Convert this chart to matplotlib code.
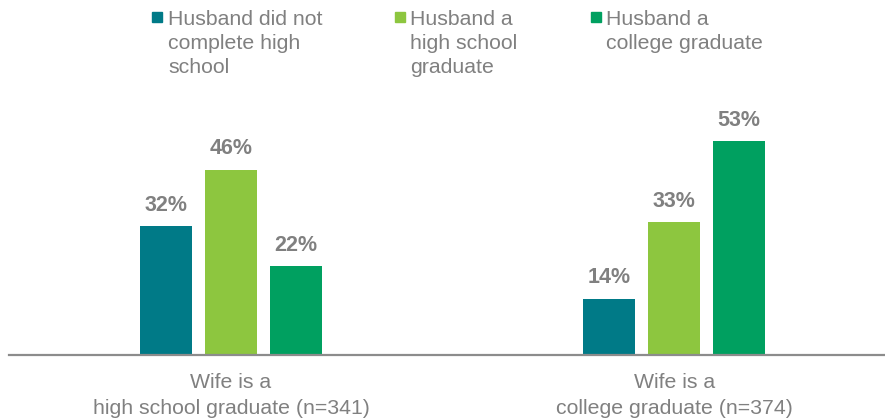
import numpy as np
import matplotlib

matplotlib.use("Agg")
import matplotlib.pyplot as plt
from matplotlib.patches import Rectangle

# Data
groups = ["Wife is a\nhigh school graduate (n=341)",
          "Wife is a\ncollege graduate (n=374)"]
series = ["Husband did not\ncomplete high\nschool",
          "Husband a\nhigh school\ngraduate",
          "Husband a\ncollege graduate"]
no_hs = [32, 14]
hs_grad = [46, 33]
college = [22, 53]

COLORS = ["#007A87", "#8DC63F", "#00A060"]
GREY = "#808080"
FONT = "Liberation Sans"

plt.rcParams["font.family"] = [FONT, "DejaVu Sans"]

W, H = 885, 419
fig = plt.figure(figsize=(W / 100, H / 100), dpi=100)

# axes placed in pixel terms: baseline at y=355, ~4.03 px per percent
left_px, right_px, base_px = 9, 885, 355
ymax = 60
top_px = base_px - ymax * 4.03
ax = fig.add_axes([left_px / W, (H - base_px) / H,
                   (right_px - left_px) / W, (base_px - top_px) / H])

x = np.arange(len(groups))
width = 0.1174
step = 0.1467
for i, (vals, color) in enumerate(zip([no_hs, hs_grad, college], COLORS)):
    bars = ax.bar(x + (i - 1) * step, vals, width, color=color, zorder=2)
    for b, v in zip(bars, vals):
        ax.annotate(f"{v}%", xy=(b.get_x() + b.get_width() / 2, b.get_height()),
                    xytext=(0, 7.3), textcoords="offset points",
                    ha="center", va="bottom", fontsize=15.5, fontweight="bold",
                    color=GREY)

ax.set_xlim(-0.501, 1.476)
ax.set_ylim(0, ymax)
ax.set_xticks(x)
ax.set_xticklabels(groups, fontsize=15.3, color=GREY, linespacing=1.45)
ax.tick_params(axis="x", length=0, pad=13)
ax.set_yticks([])
for side in ("top", "right", "left"):
    ax.spines[side].set_visible(False)
ax.spines["bottom"].set_color("#8C8C8C")
ax.spines["bottom"].set_linewidth(1.6)

# hand-placed legend so multi-line labels stay top-aligned with their swatch
sq_x = [152, 394.5, 590.5]
for sx, label, color in zip(sq_x, series, COLORS):
    fig.patches.append(Rectangle((sx / W, 1 - 22 / H), 10 / W, 10 / H,
                                 transform=fig.transFigure, color=color))
    fig.text((sx + 16) / W, 1 - 10 / H, label, ha="left", va="top",
             fontsize=15.3, color=GREY, linespacing=1.34)

fig.savefig("out.png", dpi=100)
